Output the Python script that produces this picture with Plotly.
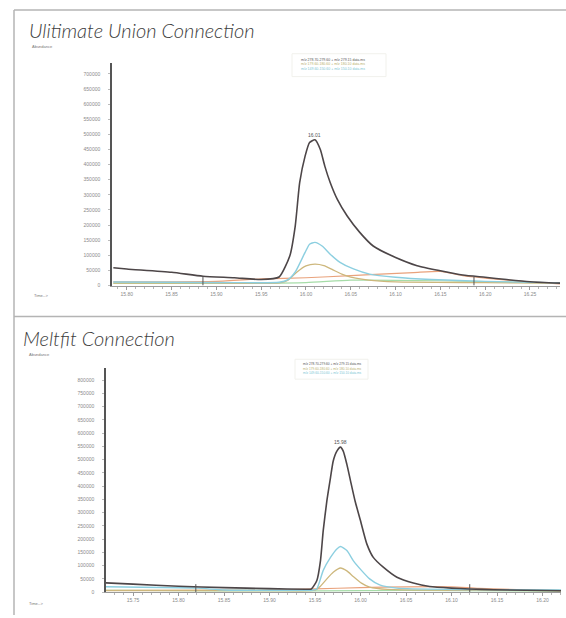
import plotly.graph_objects as go

# ---------------- data: top panel (Ulitimate Union Connection) ----------------
top_tic_t = [15.785, 15.80, 15.85, 15.885, 15.92, 15.95, 15.97, 15.982, 15.988, 15.993, 15.999,
             16.004, 16.010, 16.016, 16.021, 16.027, 16.035, 16.046, 16.060, 16.075, 16.10,
             16.124, 16.15, 16.175, 16.20, 16.224, 16.25, 16.285]
top_tic_v = [59000, 55000, 44000, 31000, 26000, 20000, 28500, 99000, 197000, 341000, 428000,
             473000, 482000, 450000, 395000, 341000, 285000, 230000, 176000, 131000, 93000,
             66000, 49000, 35000, 27500, 20000, 13000, 8000]

top_cyan_t = [15.785, 15.85, 15.92, 15.97, 15.98, 15.988, 15.999, 16.004, 16.010, 16.018, 16.027,
              16.038, 16.053, 16.071, 16.10, 16.14, 16.20, 16.285]
top_cyan_v = [12000, 11000, 10000, 11000, 20000, 45000, 110000, 137000, 143000, 131000, 104000,
              77000, 55000, 38000, 27500, 20000, 14000, 9000]

top_olive_t = [15.785, 15.90, 15.97, 15.98, 15.99, 16.00, 16.010, 16.02, 16.03, 16.04, 16.05,
               16.07, 16.10, 16.20, 16.285]
top_olive_v = [8000, 8000, 9000, 18000, 45000, 65000, 71000, 66000, 52000, 38000, 28000,
               18000, 12000, 10000, 8000]

top_orange_t = [15.785, 15.90, 15.95, 16.00, 16.05, 16.083, 16.12, 16.15, 16.175, 16.20, 16.25, 16.285]
top_orange_v = [12000, 14000, 22000, 26000, 33000, 38000, 43000, 47000, 33000, 25000, 12000, 5000]

top_green_t = [15.785, 15.90, 16.00, 16.05, 16.15, 16.25, 16.285]
top_green_v = [7000, 7000, 10000, 18000, 16000, 10000, 8000]

top_events = [15.885, 16.1875]
top_xticks = [15.80, 15.85, 15.90, 15.95, 16.00, 16.05, 16.10, 16.15, 16.20, 16.25]

# ---------------- data: bottom panel (Meltfit Connection) ----------------
bot_tic_t = [15.720, 15.75, 15.80, 15.85, 15.90, 15.94, 15.946, 15.952, 15.956, 15.959, 15.963,
             15.967, 15.970, 15.974, 15.978, 15.981, 15.985, 15.989, 15.994, 16.000, 16.007,
             16.014, 16.025, 16.040, 16.058, 16.076, 16.100, 16.120, 16.146, 16.222]
bot_tic_v = [35000, 30000, 22000, 17000, 13000, 11000, 12000, 44000, 119000, 232000, 344000,
             432000, 495000, 532000, 547000, 532000, 482000, 420000, 344000, 269000, 181000,
             131000, 94000, 56000, 34000, 21000, 15000, 12000, 9000, 5000]

bot_cyan_t = [15.720, 15.82, 15.85, 15.90, 15.948, 15.952, 15.959, 15.967, 15.974, 15.978, 15.985,
              15.992, 16.001, 16.010, 16.021, 16.040, 16.10, 16.222]
bot_cyan_v = [20000, 15000, 8000, 7000, 8000, 12000, 82000, 131000, 163000, 172000, 157000,
              119000, 82000, 50000, 27000, 15000, 10000, 8000]

bot_olive_t = [15.720, 15.90, 15.950, 15.955, 15.963, 15.970, 15.978, 15.985, 15.992, 16.001,
               16.010, 16.03, 16.10, 16.222]
bot_olive_v = [6000, 6000, 7000, 19000, 50000, 75000, 91000, 80000, 59000, 34000, 19000,
               10000, 7000, 6000]

bot_orange_t = [15.720, 15.90, 15.95, 16.00, 16.05, 16.10, 16.13, 16.222]
bot_orange_v = [6000, 8000, 12000, 17000, 20000, 20000, 14000, 5000]

bot_green_t = [15.720, 15.85, 15.95, 16.05, 16.222]
bot_green_v = [7000, 5000, 5000, 6000, 4000]

bot_events = [15.819, 16.120]
bot_xticks = [15.75, 15.80, 15.85, 15.90, 15.95, 16.00, 16.05, 16.10, 16.15, 16.20]

titles = ["Ulitimate Union Connection", "Meltfit Connection"]
legend_rows = ["m/z 278.70-279.60 + m/z 279.15 data.ms",
               "m/z 179.60-180.60 + m/z 180.10 data.ms",
               "m/z 149.60-150.60 + m/z 150.10 data.ms"]

# ---------------- styles ----------------
C_TIC = "#4d4648"
C_CYAN = "#8ccfe0"
C_OLIVE = "#cdb77c"
C_ORANGE = "#e9a27c"
C_GREEN = "#a6dca8"
W, H = 566, 618

fig = go.Figure()

def add_series(t, v, color, width, xa, ya):
    fig.add_trace(go.Scatter(x=t, y=v, mode="lines",
                             line=dict(color=color, width=width, shape="spline", smoothing=0.55),
                             xaxis=xa, yaxis=ya, showlegend=False, hoverinfo="skip"))

for xa, ya, series in [
    ("x", "y", [(top_green_t, top_green_v, C_GREEN, 1.2), (top_orange_t, top_orange_v, C_ORANGE, 1.2),
                (top_olive_t, top_olive_v, C_OLIVE, 1.3), (top_cyan_t, top_cyan_v, C_CYAN, 1.4),
                (top_tic_t, top_tic_v, C_TIC, 1.6)]),
    ("x2", "y2", [(bot_green_t, bot_green_v, C_GREEN, 1.2), (bot_orange_t, bot_orange_v, C_ORANGE, 1.2),
                  (bot_olive_t, bot_olive_v, C_OLIVE, 1.3), (bot_cyan_t, bot_cyan_v, C_CYAN, 1.4),
                  (bot_tic_t, bot_tic_v, C_TIC, 1.6)]),
]:
    for t, v, c, w in series:
        add_series(t, v, c, w, xa, ya)

def px_x(p):
    return p / W

def px_y(p):
    return 1 - p / H

tickfont = dict(family="Liberation Sans", size=5, color="#8a8a8a")

def xaxis_cfg(dom, rng, ticks, anchor):
    return dict(domain=dom, range=rng, tickvals=ticks, ticktext=[f"{t:.2f}" for t in ticks],
                showgrid=False, zeroline=False, showline=True, linecolor="#9a9a9a", linewidth=1,
                ticks="outside", ticklen=3, tickcolor="#9a9a9a", tickfont=tickfont,
                minor=dict(ticks="outside", ticklen=2, dtick=0.01, tickcolor="#b5b5b5"),
                anchor=anchor, fixedrange=True)

def yaxis_cfg(dom, rng, top, anchor):
    vals = list(range(0, top + 1, 50000))
    return dict(domain=dom, range=rng, tickvals=vals, ticktext=[str(v) for v in vals],
                showgrid=False, zeroline=False, showline=True, linecolor="#555555", linewidth=1.5,
                ticks="outside", ticklen=2, tickcolor="#bbbbbb", tickfont=tickfont,
                ticklabelstandoff=7, anchor=anchor, fixedrange=True)

fig.update_layout(
    width=W, height=H, margin=dict(l=0, r=0, t=0, b=0),
    paper_bgcolor="white", plot_bgcolor="white",
    xaxis=xaxis_cfg([px_x(112), px_x(560)], [15.7835, 16.2835], top_xticks, "y"),
    yaxis=yaxis_cfg([px_y(287), px_y(63)], [0, 737000], 700000, "x"),
    xaxis2=xaxis_cfg([px_x(106), px_x(561)], [15.7203, 16.2203], bot_xticks, "y2"),
    yaxis2=yaxis_cfg([px_y(595), px_y(370)], [0, 845000], 800000, "x2"),
)

frame = "#b4b4b4"
shapes = [
    dict(type="line", xref="paper", yref="paper", x0=px_x(14), x1=px_x(14), y0=0, y1=px_y(10),
         line=dict(color=frame, width=1.5)),
    dict(type="line", xref="paper", yref="paper", x0=px_x(14), x1=1, y0=px_y(10), y1=px_y(10),
         line=dict(color=frame, width=1.5)),
    dict(type="line", xref="paper", yref="paper", x0=px_x(14), x1=1, y0=px_y(318), y1=px_y(318),
         line=dict(color=frame, width=1.5)),
]
for ev in top_events:
    shapes.append(dict(type="line", xref="x", yref="y", x0=ev, x1=ev, y0=0, y1=30000,
                       line=dict(color="#555555", width=1)))
for ev in bot_events:
    shapes.append(dict(type="line", xref="x2", yref="y2", x0=ev, x1=ev, y0=0, y1=30000,
                       line=dict(color="#555555", width=1)))
# faint legend boxes
shapes.append(dict(type="rect", xref="paper", yref="paper", x0=px_x(292), x1=px_x(386),
                   y0=px_y(77), y1=px_y(54), line=dict(color="#f1f1ec", width=1)))
shapes.append(dict(type="rect", xref="paper", yref="paper", x0=px_x(295), x1=px_x(368),
                   y0=px_y(381), y1=px_y(361), line=dict(color="#f1f1ec", width=1)))
fig.update_layout(shapes=shapes)

ann = []
title_font = dict(family="Lato", size=20, color="#3c3c3c", weight=300)
ann.append(dict(xref="paper", yref="paper", x=px_x(27), y=px_y(30), text=f"<i>{titles[0]}</i>",
                showarrow=False, xanchor="left", yanchor="middle", font=title_font))
ann.append(dict(xref="paper", yref="paper", x=px_x(21), y=px_y(340), text=f"<i>{titles[1]}</i>",
                showarrow=False, xanchor="left", yanchor="middle", font=title_font))
small = dict(family="Liberation Sans", size=4, color="#777777")
for (xx, yy, txt) in [(30, 47, "Abundance"), (27, 356, "Abundance"), (32, 297, "Time-->"), (27, 606, "Time-->")]:
    ann.append(dict(xref="paper", yref="paper", x=px_x(xx), y=px_y(yy), text=txt, showarrow=False,
                    xanchor="left", yanchor="middle", font=small))
row_colors = ["#555555", "#b9b070", "#7cc6d4"]
for i, (rc, txt) in enumerate(zip(row_colors, legend_rows)):
    ann.append(dict(xref="paper", yref="paper", x=px_x(300), y=px_y(60 + 4.6 * i), text=txt,
                    showarrow=False, xanchor="left", yanchor="middle", borderpad=0,
                    font=dict(family="Liberation Sans", size=3.5, color=rc)))
    ann.append(dict(xref="paper", yref="paper", x=px_x(302), y=px_y(366 + 4.6 * i), text=txt,
                    showarrow=False, xanchor="left", yanchor="middle", borderpad=0,
                    font=dict(family="Liberation Sans", size=3.2, color=rc)))
# peak labels
for t_list, v_list, xr, yr in [(top_tic_t, top_tic_v, "x", "y"), (bot_tic_t, bot_tic_v, "x2", "y2")]:
    i = v_list.index(max(v_list))
    ann.append(dict(xref=xr, yref=yr, x=t_list[i], y=v_list[i], text=f"{t_list[i]:.2f}",
                    showarrow=False, yanchor="bottom", yshift=0,
                    font=dict(family="Liberation Sans", size=5, color="#555555")))
fig.update_layout(annotations=ann)

fig.write_html("out.html", config={"displayModeBar": False},
               post_script="document.body.style.margin='0';")
